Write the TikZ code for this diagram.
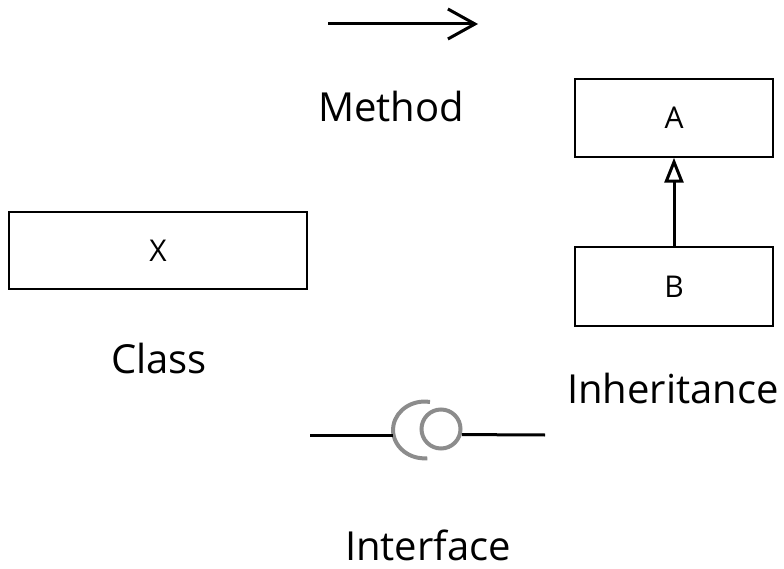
\documentclass[tikz,border=0pt]{standalone}
\usepackage{fontspec}
\setmainfont{Open Sans}
\usetikzlibrary{arrows.meta}
\definecolor{umlBorde}{HTML}{000000}
\definecolor{umlGris}{HTML}{8c8c8c}

\begin{document}
\begin{tikzpicture}[x=1pt, y=-1pt,
  caja/.style={draw=umlBorde, line width=1.5pt, minimum height=77pt, inner sep=0pt,
    font=\fontsize{30}{36}\selectfont},
  titulo/.style={anchor=base, inner sep=0pt, font=\fontsize{40}{48}\selectfont},
  linea/.style={draw=umlBorde, line width=3pt},
  gris/.style={draw=umlGris, line width=4pt},
]
  \useasboundingbox (0,0) rectangle (784,569);

  % Metodo
  \coordinate (metIni) at (328,24);
  \coordinate (metFin) at (478,24);
  \draw[linea, -{Straight Barb[length=27pt, width=30pt]}] (metIni) -- (metFin);
  \node[titulo] (txtMetodo) at (391,122) {Method};

  % Clase
  \node[caja, minimum width=298pt] (claseX) at (158,250.5) {X};
  \node[titulo] (txtClase) at (159,373) {Class};

  % Herencia
  \node[caja, minimum width=198pt, minimum height=78pt] (claseA) at (674,118) {A};
  \node[caja, minimum width=198pt, minimum height=79pt] (claseB) at (674,286.5) {B};
  \draw[linea, -{Triangle[open, length=25pt, width=19pt, line width=3pt]}] (claseB) -- (claseA);
  \node[titulo] (txtHerencia) at (673,403) {Inheritance};

  % Interfaz
  \node[circle, gris, minimum size=39pt, inner sep=0pt] (bola) at (441,429) {};
  \draw[gris] (430,402) arc[start angle=-80, end angle=-275, x radius=31.5, y radius=28.4];
  \coordinate (enchufe) at (393,435);
  \coordinate (ifzIni) at (310,435);
  \coordinate (ifzFin) at (545,435);
  \draw[linea] (ifzIni) -- (enchufe);
  \draw[linea] (bola.-15) -- (ifzFin);
  \node[titulo] (txtInterfaz) at (428,560) {Interface};
\end{tikzpicture}
\end{document}
